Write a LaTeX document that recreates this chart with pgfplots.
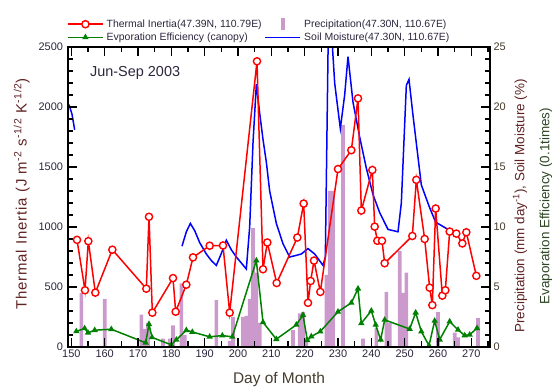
\documentclass[border=0pt]{standalone}
\usepackage{pgfplots}
\pgfplotsset{compat=1.18}
\usepackage{pgfplotstable}
\usepackage{fontspec}
\setmainfont{Liberation Sans}
\definecolor{lilac}{RGB}{204,153,204}
\definecolor{evgreen}{RGB}{0,128,0}
\definecolor{txt}{RGB}{45,38,60}
\definecolor{rtxt}{RGB}{70,60,45}
\definecolor{labred}{RGB}{95,35,35}
\definecolor{labgreen}{RGB}{45,70,35}

\pgfplotstableread{
day ti
151.7 893
154.1 473
155.1 882
157.2 453
162.3 811
172.5 486
173.3 1085
174.3 286
180.5 574
181.3 294
184.5 519
186.5 747
191.5 844
195.5 846
197.5 286
205.7 2381
207.5 648
208.8 871
211.6 533
217.8 912
219.7 1195
221.0 368
221.8 550
222.8 720
224.7 459
230.0 1483
234.0 1640
236.0 2072
237.0 1137
240.3 1475
241.0 1003
241.8 885
243.2 885
244.0 698
252.3 925
253.5 1393
256.0 900
257.5 494
258.3 349
259.3 1154
261.3 428
262.2 473
263.5 962
265.5 945
267.3 863
268.5 956
271.5 593
}\titable

\pgfplotstableread{
day pr
153 4.5
160 4.0
171 2.7
172 1.5
173 2.0
177.5 0.7
179.5 0.7
180.5 1.8
183 5.3
184 1.0
193.5 3.9
197.5 0.5
198.5 2.5
201.5 2.5
202.5 2.6
203.5 4.0
204.5 9.9
205.5 6.2
206.5 2.0
216.5 1.4
218.5 2.8
219.5 2.9
220.5 0.8
226.5 6.0
227.5 13.0
228.5 13.0
231.5 18.5
237.5 0.7
241.5 1.6
244.5 4.6
245.5 2.0
248.5 8.0
249.5 4.5
250.5 6.2
260 2.9
265 1.2
266 0.8
272 2.4
}\prtable

\pgfplotstableread{
day ev
151.5 1.30
154 1.55
155 1.18
157 1.40
162 1.48
172.3 0.35
173.3 1.90
174.2 0.80
180 0.18
181.5 0.60
184.5 1.40
186.3 1.25
191.5 0.85
195.3 0.95
198.3 0.85
205.5 7.20
207.5 2.06
211.5 0.65
217.5 1.85
219.5 2.67
220.8 0.55
222 0.88
224.7 1.29
230 2.94
234 3.68
236 4.86
237 1.98
240 3.02
241.3 1.85
242.8 0.61
244 2.26
251.5 1.50
253.3 2.86
255 1.29
257.3 0.12
259 2.18
260.5 0.61
263.5 2.12
266 1.43
268 0.96
269.5 1.02
271.7 1.57
}\evtable

\pgfplotstableread{
day sm
149.3 20.2
150.2 19.4
151.0 18.1
}\smatable

\pgfplotstableread{
day sm
183.2 8.4
184.5 9.6
185.7 10.3
187.0 9.7
188.5 8.7
190.5 7.75
192.0 7.2
193.5 6.8
195.0 7.8
196.5 8.9
198.0 8.1
199.5 7.5
201.0 7.0
202.5 6.5
203.5 10.0
204.5 17.0
205.5 21.9
206.5 19.5
207.5 17.3
208.5 15.4
209.5 13.0
211.5 10.3
213.5 8.6
215.5 7.5
217.0 7.6
219.0 7.75
221.0 8.2
223.0 7.75
225.5 6.8
226.2 7.5
227.1 26.5
228.0 26.5
229.0 22.0
230.7 18.2
232.0 21.0
233.0 24.2
234.5 20.4
236.5 17.5
238.5 14.9
240.5 12.7
242.5 11.2
245.0 9.8
248.0 9.6
249.0 12.0
250.5 21.8
251.3 22.3
252.5 19.3
255.0 13.5
257.5 11.6
259.3 10.4
263.0 9.8
}\smbtable

\pgfplotsset{
  base/.style={
    scale only axis, width=422bp, height=300bp,
    xmin=149, xmax=275.6,
    at={(0,0)}, anchor=south west,
    axis line style={line width=1.3bp},
    tick style={black, line width=1.1bp},
    tick align=inside,
    major tick length=9bp, minor tick length=5.5bp,
    tick label style={font=\fontsize{11}{13}\selectfont},
    /pgf/number format/assume math mode=true,
    /pgf/number format/1000 sep={},
  }
}

\begin{document}
\begin{tikzpicture}
% right axis: precipitation, evaporation efficiency, soil moisture
\begin{axis}[base,
  axis x line=none,
  axis y line*=right,
  ymin=0, ymax=25,
  ytick={0,5,...,25}, minor tick num=4,
  yticklabel style={text=rtxt},
  ylabel={{\color{labred}Precipitation (mm day\textsuperscript{-1}), Soil Moisture (\%)}\\{\color{labgreen}Evaporation Efficiency (0.1times)}},
  ylabel style={at={(axis description cs:1.1007,0.47)}, anchor=center, align=center,
    font=\fontsize{13.5}{25}\selectfont, rotate=0},
  legend columns=2,
  legend cell align=left,
  legend image code/.code={\draw[mark repeat=2,mark phase=2,#1] plot coordinates {(0bp,0bp)(17.5bp,0bp)(35bp,0bp)};},
  legend style={draw=none, fill=none, at={(axis description cs:0,1)}, anchor=south west,
    xshift=-4bp, yshift=1bp, font=\fontsize{10.5}{12}\selectfont, text=txt,
    /tikz/column sep=1bp},
]
\addlegendimage{red, line width=1.5bp, mark=*, mark size=3.6bp, mark options={fill=white, draw=red, line width=1.4bp}}
\addlegendentry{Thermal Inertia(47.39N, 110.79E)}
\addplot[ybar, bar width=1.1, bar shift=0pt, fill=lilac, draw=none,
  legend image code/.code={\fill[lilac] (15.5bp,-6bp) rectangle (19.5bp,6bp);}]
  table[x=day, y=pr] {\prtable};
\addlegendentry{Precipitation(47.30N, 110.67E)}
\addplot[evgreen, line width=1.5bp, mark=triangle*, mark size=2.2bp]
  table[x=day, y=ev] {\evtable};
\addlegendentry{Evporation Efficiency (canopy)}
\addplot[blue, line width=1.5bp, forget plot] table[x=day, y=sm] {\smatable};
\addplot[blue, line width=1.5bp] table[x=day, y=sm] {\smbtable};
\addlegendentry{Soil Moisture(47.30N, 110.67E)}
\end{axis}
% left axis: thermal inertia
\begin{axis}[base,
  ymin=0, ymax=2500,
  ytick={0,500,...,2500}, minor tick num=4,
  xtick={150,160,...,270}, minor xtick={155,165,...,275},
  xtick pos=both, xticklabel pos=lower, ytick pos=left,
  tick label style={text=txt},
  yticklabel style={xshift=-1.5bp},
  xticklabel style={yshift=1bp},
  xlabel={Day of Month},
  xlabel style={font=\fontsize{15.5}{17}\selectfont, text=rtxt, yshift=-8bp},
  ylabel={\addfontfeatures{LetterSpace=6}Thermal Inertia (J m\textsuperscript{-2} s\textsuperscript{-1/2} K\textsuperscript{-1/2})},
  ylabel style={at={(axis description cs:-0.1097,0.51)}, anchor=center,
    font=\fontsize{15}{17}\selectfont, text=labred, rotate=0},
]
\addplot[red, line width=1.5bp, mark=*, mark size=3.6bp, mark options={fill=white, draw=red, line width=1.4bp}]
  table[x=day, y=ti] {\titable};
\node[anchor=west, inner sep=0pt, font=\fontsize{14.5}{16}\selectfont, text=txt]
  at (axis description cs:0.052,0.913) {Jun-Sep 2003};
\end{axis}
\pgfresetboundingbox
\path (-68bp,-42bp) rectangle (487bp,347bp);
\end{tikzpicture}
\end{document}
